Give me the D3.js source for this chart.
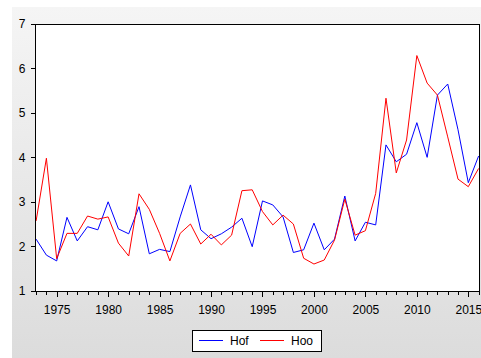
<!DOCTYPE html>
<html>
<meta charset="utf-8">
<script src="https://d3js.org/d3.v7.js"></script>
<style>
    body { margin: 0; background: #ffffff; }
    text { font-family: "Liberation Sans", Arial, sans-serif; font-size: 12px; fill: #000; }
</style>
<body>
    <div id="my_chart"></div>
    <script>

        // data
        var years = [1973, 1974, 1975, 1976, 1977, 1978, 1979, 1980, 1981, 1982,
            1983, 1984, 1985, 1986, 1987, 1988, 1989, 1990, 1991, 1992,
            1993, 1994, 1995, 1996, 1997, 1998, 1999, 2000, 2001, 2002,
            2003, 2004, 2005, 2006, 2007, 2008, 2009, 2010, 2011, 2012,
            2013, 2014, 2015, 2016];
        var hof = [2.16, 1.80, 1.67, 2.65, 2.12, 2.44, 2.37, 3.00, 2.39, 2.28,
            2.89, 1.83, 1.93, 1.88, 2.66, 3.38, 2.37, 2.17, 2.28, 2.43,
            2.63, 1.99, 3.02, 2.93, 2.66, 1.86, 1.92, 2.52, 1.92, 2.16,
            3.13, 2.12, 2.54, 2.48, 4.28, 3.90, 4.07, 4.78, 4.00, 5.40,
            5.65, 4.62, 3.43, 4.03];
        var hoo = [2.57, 3.98, 1.72, 2.29, 2.29, 2.68, 2.61, 2.66, 2.07, 1.78,
            3.18, 2.83, 2.29, 1.67, 2.29, 2.50, 2.05, 2.27, 2.03, 2.25,
            3.25, 3.27, 2.78, 2.48, 2.70, 2.50, 1.73, 1.60, 1.69, 2.14,
            3.06, 2.25, 2.35, 3.19, 5.33, 3.65, 4.39, 6.29, 5.67, 5.40,
            4.46, 3.51, 3.34, 3.75];
        var yTicks = [1, 2, 3, 4, 5, 6, 7];
        var xMajor = [1975, 1980, 1985, 1990, 1995, 2000, 2005, 2010, 2015];
        var seriesNames = ["Hof", "Hoo"];
        var seriesColors = ["#0000ff", "#ff0000"];

        var W = 481, H = 358;
        // plot box (note: "top" is reserved on window, so use other names)
        var pLeft = 35.5, pRight = 479.5, pTop = 24, pBottom = 291;

        var svg = d3.select("#my_chart")
            .append("svg")
            .attr("width", W)
            .attr("height", H);

        // grey panel with soft gradient
        var grad = svg.append("defs").append("linearGradient")
            .attr("id", "bg").attr("x1", 0).attr("y1", 0).attr("x2", 0).attr("y2", 1);
        grad.append("stop").attr("offset", "0%").attr("stop-color", "#f5f5f5");
        grad.append("stop").attr("offset", "100%").attr("stop-color", "#dcdcdc");
        svg.append("rect")
            .attr("x", 12).attr("y", 7)
            .attr("width", W - 12).attr("height", H - 7)
            .attr("fill", "url(#bg)");

        // plot area
        svg.append("rect")
            .attr("x", pLeft).attr("y", pTop + 0.5)
            .attr("width", pRight - pLeft).attr("height", pBottom - pTop)
            .attr("fill", "#ffffff");

        // scales
        var x = d3.scaleLinear()
            .domain([1973, 2016])
            .range([36.1, 478.6]);
        var y = d3.scaleLinear()
            .domain([1, 7])
            .range([290.7, 24]);

        // y axis
        var yAxis = svg.append("g")
            .attr("transform", "translate(" + pLeft + ",0)")
            .call(d3.axisLeft(y).tickValues(yTicks).tickSize(5).tickPadding(5).tickFormat(d3.format("d")));
        yAxis.select(".domain").remove();
        yAxis.selectAll("text").style("font-size", "12px");

        // x axis: minor ticks every year, labels every 5
        var xMinor = svg.append("g")
            .attr("transform", "translate(0," + (pBottom + 0.5) + ")")
            .call(d3.axisBottom(x).tickValues(years).tickSize(3).tickFormat(""));
        xMinor.select(".domain").remove();
        var xAxis = svg.append("g")
            .attr("transform", "translate(0," + (pBottom + 0.5) + ")")
            .call(d3.axisBottom(x).tickValues(xMajor).tickSize(5).tickPadding(9).tickFormat(d3.format("d")));
        xAxis.select(".domain").remove();
        xAxis.selectAll("text").style("font-size", "12px");
        svg.selectAll(".tick line").attr("shape-rendering", "crispEdges");

        // lines
        var line = d3.line()
            .x(function (d) { return x(d.year) })
            .y(function (d) { return y(d.value) });

        [hof, hoo].forEach(function (vals, i) {
            var pts = years.map(function (yr, j) { return { year: yr, value: vals[j] } });
            svg.append("path")
                .datum(pts)
                .attr("fill", "none")
                .attr("stroke", seriesColors[i])
                .attr("stroke-width", 1)
                .attr("d", line);
        });

        // frame
        svg.append("rect")
            .attr("x", pLeft).attr("y", pTop + 0.5)
            .attr("width", pRight - pLeft).attr("height", pBottom - pTop)
            .attr("fill", "none")
            .attr("stroke", "#000")
            .attr("stroke-width", 1);

        // legend
        var legend = svg.append("g");
        legend.append("rect")
            .attr("x", 192.5).attr("y", 330.5)
            .attr("width", 129).attr("height", 21)
            .attr("fill", "#fff")
            .attr("stroke", "#000");
        var legX = [199, 260];
        seriesNames.forEach(function (name, i) {
            legend.append("line")
                .attr("x1", legX[i]).attr("x2", legX[i] + 24)
                .attr("y1", 340.5).attr("y2", 340.5)
                .attr("stroke", seriesColors[i]);
            legend.append("text")
                .attr("x", legX[i] + 31).attr("y", 345)
                .text(name);
        });

    </script>
</body>

</html>
